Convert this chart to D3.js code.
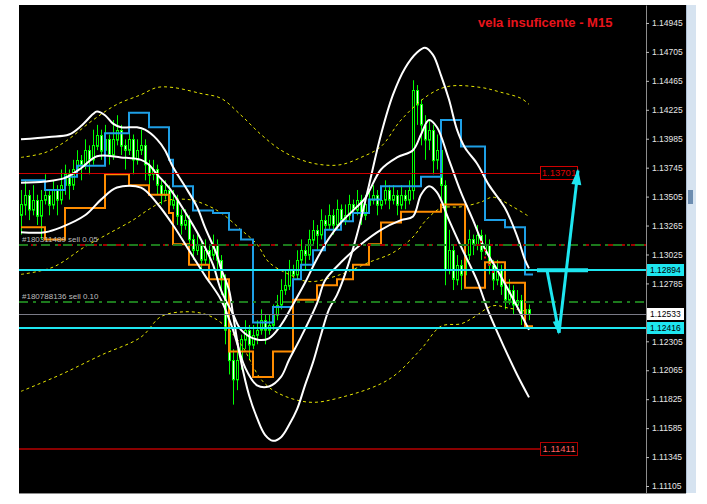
<!DOCTYPE html>
<html><head><meta charset="utf-8">
<script src="https://cdn.jsdelivr.net/npm/d3@7"></script>
<style>body{margin:0;background:#fff;}svg{display:block;}</style>
</head><body><svg id="c" width="707" height="504"></svg>
<script>
// ---------------- DATA ----------------
const barOpen = [1.1335,1.1344,1.1352,1.1340,1.1348,1.1335,1.1348,1.1352,1.1344,1.1356,
1.1348,1.1360,1.1369,1.1360,1.1373,1.1381,1.1377,1.1389,1.1381,1.1393,
1.1402,1.1389,1.1398,1.1385,1.1398,1.1406,1.1393,1.1389,1.1398,1.1381,
1.1389,1.1393,1.1377,1.1369,1.1373,1.1360,1.1352,1.1356,1.1344,1.1348,
1.1335,1.1327,1.1331,1.1315,1.1306,1.1311,1.1298,1.1306,1.1302,1.1311,
1.1298,1.1282,1.1240,1.1215,1.1199,1.1215,1.1232,1.1240,1.1228,1.1236,
1.1240,1.1248,1.1240,1.1244,1.1253,1.1261,1.1273,1.1277,1.1290,1.1286,
1.1298,1.1306,1.1302,1.1315,1.1323,1.1319,1.1331,1.1327,1.1335,1.1327,
1.1340,1.1331,1.1335,1.1344,1.1340,1.1348,1.1335,1.1344,1.1348,1.1352,
1.1344,1.1348,1.1356,1.1348,1.1352,1.1344,1.1352,1.1348,1.1356,1.1439,
1.1427,1.1410,1.1398,1.1406,1.1381,1.1389,1.1360,1.1290,1.1306,1.1282,
1.1294,1.1286,1.1302,1.1315,1.1311,1.1319,1.1306,1.1311,1.1294,1.1282,
1.1290,1.1277,1.1265,1.1273,1.1261,1.1265,1.1253,1.1257];
const barHigh = [1.1356,1.1364,1.1356,1.1360,1.1352,1.1356,1.1369,1.1356,1.1364,1.1360,
1.1373,1.1377,1.1373,1.1381,1.1389,1.1385,1.1398,1.1393,1.1406,1.1410,
1.1406,1.1410,1.1402,1.1414,1.1418,1.1410,1.1398,1.1406,1.1402,1.1398,
1.1406,1.1398,1.1381,1.1381,1.1377,1.1364,1.1364,1.1360,1.1356,1.1352,
1.1340,1.1340,1.1335,1.1319,1.1319,1.1315,1.1315,1.1311,1.1319,1.1315,
1.1302,1.1286,1.1248,1.1224,1.1224,1.1236,1.1248,1.1244,1.1244,1.1248,
1.1257,1.1253,1.1253,1.1261,1.1269,1.1282,1.1290,1.1298,1.1294,1.1306,
1.1315,1.1311,1.1323,1.1331,1.1327,1.1340,1.1335,1.1344,1.1340,1.1348,
1.1344,1.1344,1.1352,1.1348,1.1356,1.1352,1.1352,1.1356,1.1360,1.1356,
1.1356,1.1364,1.1360,1.1360,1.1356,1.1360,1.1356,1.1364,1.1447,1.1443,
1.1431,1.1418,1.1414,1.1410,1.1402,1.1393,1.1364,1.1323,1.1311,1.1302,
1.1298,1.1319,1.1323,1.1319,1.1327,1.1323,1.1319,1.1315,1.1298,1.1298,
1.1294,1.1282,1.1282,1.1277,1.1273,1.1269,1.1265,1.1261];
const barLow = [1.1319,1.1335,1.1331,1.1335,1.1327,1.1315,1.1344,1.1335,1.1340,1.1335,
1.1344,1.1352,1.1348,1.1356,1.1369,1.1364,1.1373,1.1369,1.1377,1.1389,
1.1381,1.1385,1.1377,1.1381,1.1393,1.1385,1.1373,1.1385,1.1369,1.1377,
1.1385,1.1364,1.1360,1.1364,1.1352,1.1344,1.1348,1.1340,1.1340,1.1327,
1.1319,1.1323,1.1306,1.1298,1.1302,1.1290,1.1294,1.1294,1.1298,1.1290,
1.1269,1.1228,1.1203,1.1178,1.1190,1.1207,1.1224,1.1215,1.1224,1.1228,
1.1236,1.1228,1.1236,1.1240,1.1248,1.1257,1.1269,1.1273,1.1273,1.1282,
1.1294,1.1290,1.1298,1.1311,1.1306,1.1315,1.1315,1.1323,1.1319,1.1323,
1.1323,1.1327,1.1331,1.1331,1.1335,1.1327,1.1331,1.1340,1.1344,1.1335,
1.1340,1.1344,1.1340,1.1344,1.1335,1.1340,1.1340,1.1344,1.1348,1.1410,
1.1393,1.1381,1.1389,1.1369,1.1373,1.1348,1.1277,1.1286,1.1273,1.1277,
1.1273,1.1282,1.1298,1.1302,1.1306,1.1298,1.1302,1.1286,1.1273,1.1277,
1.1269,1.1257,1.1261,1.1253,1.1257,1.1244,1.1248,1.1248];
const barClose = [1.1344,1.1352,1.1340,1.1348,1.1335,1.1348,1.1352,1.1344,1.1356,1.1348,
1.1360,1.1369,1.1360,1.1373,1.1381,1.1377,1.1389,1.1381,1.1393,1.1402,
1.1389,1.1398,1.1385,1.1398,1.1406,1.1393,1.1389,1.1398,1.1381,1.1389,
1.1393,1.1377,1.1369,1.1373,1.1360,1.1352,1.1356,1.1344,1.1348,1.1335,
1.1327,1.1331,1.1315,1.1306,1.1311,1.1298,1.1306,1.1302,1.1311,1.1298,
1.1282,1.1240,1.1215,1.1199,1.1215,1.1232,1.1240,1.1228,1.1236,1.1240,
1.1248,1.1240,1.1244,1.1253,1.1261,1.1273,1.1277,1.1290,1.1286,1.1298,
1.1306,1.1302,1.1315,1.1323,1.1319,1.1331,1.1327,1.1335,1.1327,1.1340,
1.1331,1.1335,1.1344,1.1340,1.1348,1.1335,1.1344,1.1348,1.1352,1.1344,
1.1348,1.1356,1.1348,1.1352,1.1344,1.1352,1.1348,1.1356,1.1439,1.1427,
1.1410,1.1398,1.1406,1.1381,1.1389,1.1360,1.1290,1.1306,1.1282,1.1294,
1.1286,1.1302,1.1315,1.1311,1.1319,1.1306,1.1311,1.1294,1.1282,1.1290,
1.1277,1.1265,1.1273,1.1261,1.1265,1.1253,1.1257,1.1253];

// indicator knots: [bar index, price]
const outerBand = [[0,1.1398],[7,1.1400],[12,1.1402],[15,1.1409],[18,1.1419],[19,1.1421],[21,1.1418],[23,1.1411],[25,1.1408],[29,1.1408],[31,1.1406],[34,1.1398],[36,1.1389],[38,1.1375],[41,1.1359],[44,1.1342],[46,1.1325],[49,1.1302],[50,1.1291],[52,1.1273],[53,1.1253],[54,1.1232],[55,1.1214],[57,1.1186],[59,1.1167],[61,1.1153],[63,1.1148],[65,1.1151],[67,1.1161],[69,1.1174],[71,1.1194],[73,1.1213],[75,1.1236],[77,1.1257],[79,1.1269],[81,1.1286],[84,1.1319],[87,1.1360],[90,1.1402],[93,1.1435],[96,1.1457],[99,1.1470],[101,1.1474],[103,1.1468],[105,1.1451],[107,1.1431],[109,1.1406],[111,1.1391],[114,1.1378],[117,1.1360],[121,1.1341],[124,1.1318],[126,1.1298],[127,1.1291]];
const innerUpper = [[0,1.1362],[6,1.1363],[11,1.1366],[15,1.1374],[19,1.1384],[25,1.1383],[30,1.1381],[32,1.1377],[34,1.1369],[37,1.1358],[41,1.1338],[45,1.1315],[48,1.1294],[50,1.1273],[53,1.1253],[55,1.1240],[59,1.1232],[62,1.1233],[65,1.1244],[68,1.1261],[71,1.1279],[74,1.1299],[77,1.1316],[80,1.1329],[83,1.1339],[86,1.1349],[90,1.1373],[94,1.1383],[98,1.1389],[100,1.1402],[102,1.1414],[104,1.1408],[107,1.1381],[110,1.1354],[113,1.1331],[116,1.1307],[119,1.1290],[122,1.1272],[125,1.1253],[127,1.1240]];
const innerLower = [[0,1.1321],[6,1.1321],[10,1.1325],[16,1.1335],[20,1.1348],[24,1.1358],[30,1.1358],[34,1.1345],[38,1.1327],[42,1.1306],[46,1.1285],[50,1.1265],[53,1.1240],[56,1.1209],[59,1.1194],[62,1.1193],[65,1.1201],[67,1.1215],[70,1.1234],[74,1.1262],[76,1.1281],[80,1.1296],[85,1.1311],[90,1.1323],[95,1.1331],[98,1.1334],[100,1.1352],[102,1.1359],[104,1.1354],[107,1.1331],[110,1.1309],[114,1.1281],[117,1.1254],[121,1.1224],[124,1.1203],[127,1.1184]];
const envUpper = [[0,1.1383],[6,1.1387],[11,1.1396],[18,1.1414],[24,1.1427],[30,1.1435],[34,1.1441],[38,1.1441],[45,1.1436],[50,1.1432],[55,1.1418],[60,1.1402],[65,1.1389],[70,1.1381],[75,1.1377],[80,1.1377],[85,1.1383],[90,1.1392],[95,1.1414],[102,1.1435],[107,1.1442],[115,1.1441],[120,1.1437],[125,1.1432],[127,1.1427]];
const envMiddle = [[0,1.1286],[8,1.1292],[16,1.1309],[22,1.1320],[28,1.1331],[32,1.1340],[36,1.1347],[42,1.1348],[46,1.1344],[50,1.1337],[55,1.1323],[59,1.1311],[62,1.1296],[67,1.1286],[72,1.1280],[80,1.1286],[87,1.1296],[93,1.1304],[98,1.1317],[101,1.1330],[105,1.1341],[110,1.1342],[115,1.1346],[118,1.1350],[123,1.1342],[127,1.1334]];
const envLower = [[0,1.1189],[10,1.1203],[20,1.1219],[30,1.1234],[35,1.1251],[41,1.1255],[46,1.1253],[50,1.1246],[55,1.1228],[60,1.1199],[64,1.1188],[72,1.1180],[80,1.1184],[92,1.1199],[100,1.1224],[105,1.1243],[110,1.1245],[113,1.1250],[118,1.1260],[122,1.1258],[127,1.1255]];
const channelHigh = [[0,1.1364],[6,1.1356],[11,1.1367],[14,1.1376],[21,1.1403],[27,1.1420],[32,1.1408],[37,1.1381],[38,1.1359],[43,1.1339],[48,1.1337],[52,1.1323],[55,1.1315],[58,1.1246],[63,1.1259],[68,1.1282],[70,1.1294],[73,1.1306],[76,1.1323],[80,1.1330],[83,1.1337],[87,1.1348],[90,1.1359],[100,1.1367],[105,1.1414],[110,1.1392],[116,1.1331],[121,1.1325],[126,1.1286],[128,1.1286]];
const channelLow = [[0,1.1325],[6,1.1315],[11,1.1341],[21,1.1369],[27,1.1360],[32,1.1352],[37,1.1337],[38,1.1311],[42,1.1294],[47,1.1282],[52,1.1222],[58,1.1201],[63,1.1222],[68,1.1265],[74,1.1277],[79,1.1282],[83,1.1294],[87,1.1311],[90,1.1329],[95,1.1338],[105,1.1344],[111,1.1275],[116,1.1296],[121,1.1279],[126,1.1243],[128,1.1243]];
const signalDots = [[115,1.1313],[116,1.1306],[116,1.1300],[117,1.1294],[118,1.1288]];

const tickValues = [1.14945,1.14705,1.14465,1.14225,1.13985,1.13745,1.13505,1.13265,1.13025,1.12785,1.12305,1.12065,1.11825,1.11585,1.11345,1.11105];
const cyanLevels = [1.12894, 1.12416];
const bidPrice = 1.12533;
const orderLevels = [1.13105, 1.12634];
const orderLabels = ["#180311489 sell 0.05", "#180788136 sell 0.10"];
const takeProfit = 1.13701;
const stopLevel = 1.11411;
const title = "vela insuficente - M15";
// drawn arrow object: [bar index, price]
const arrowBar = [[129,1.12894],[141.75,1.12894]];
const arrowDown = [[131.5,1.12894],[134.5,1.12376]];
const arrowUp = [[134.5,1.12376],[139.25,1.1372]];

// ---------------- CHART ----------------
const svg = d3.select("#c");
const L=19, R=646, T=5, B=493;
svg.append("rect").attr("width",707).attr("height",504).attr("fill","#fff");
svg.append("rect").attr("x",L).attr("y",T).attr("width",667).attr("height",B-T).attr("fill","#000");
// scrollbar strip
svg.append("rect").attr("x",686).attr("y",T).attr("width",10).attr("height",B-T).attr("fill","#d6e3f0");
svg.append("line").attr("x1",686.5).attr("x2",686.5).attr("y1",T).attr("y2",B).attr("stroke","#aebfd2");
svg.append("rect").attr("x",688).attr("y",190).attr("width",5).attr("height",14).attr("fill","#6d8db0");

const x = d3.scaleLinear().domain([0,127]).range([21,529]);
const y = d3.scaleLinear().domain([1.11047,1.15094]).range([B,T]);

svg.append("clipPath").attr("id","clip").append("rect").attr("x",L).attr("y",T).attr("width",R-L).attr("height",B-T);
const plot = svg.append("g").attr("clip-path","url(#clip)");

// candles
const bars = barOpen.map((o,i)=>({i,o,h:barHigh[i],l:barLow[i],c:barClose[i]}));
const cg = plot.append("g");
cg.selectAll("line.w").data(bars).join("line")
  .attr("x1",d=>Math.round(x(d.i))+0.5).attr("x2",d=>Math.round(x(d.i))+0.5)
  .attr("y1",d=>y(d.h)).attr("y2",d=>y(d.l)).attr("stroke","#00ff00").attr("stroke-width",1);
cg.selectAll("rect.b").data(bars).join("rect")
  .attr("x",d=>Math.round(x(d.i))-0.5).attr("width",2)
  .attr("y",d=>Math.round(y(Math.max(d.o,d.c)))+0.5)
  .attr("height",d=>Math.max(1,Math.abs(y(d.o)-y(d.c))))
  .attr("fill",d=>d.c>=d.o?"#000":"#e8ffe8").attr("stroke","#00ff00").attr("stroke-width",1);

const curve = d3.line().x(d=>x(d[0])).y(d=>y(d[1])).curve(d3.curveCatmullRom.alpha(0.5));
const step = d3.line().x(d=>x(d[0])).y(d=>y(d[1])).curve(d3.curveStepAfter);

[envUpper,envMiddle,envLower].forEach(s=>plot.append("path").attr("d",curve(s))
  .attr("fill","none").attr("stroke","#e6e600").attr("stroke-width",1).attr("stroke-dasharray","3,3"));
plot.append("path").attr("d",step(channelHigh)).attr("fill","none").attr("stroke","#1e9fe6").attr("stroke-width",2);
plot.append("path").attr("d",step(channelLow)).attr("fill","none").attr("stroke","#ff8c00").attr("stroke-width",2);
[outerBand,innerUpper,innerLower].forEach(s=>plot.append("path").attr("d",curve(s))
  .attr("fill","none").attr("stroke","#ffffff").attr("stroke-width",2));
plot.selectAll("rect.sig").data(signalDots).join("rect")
  .attr("x",d=>x(d[0])-1).attr("y",d=>y(d[1])-1).attr("width",2).attr("height",2).attr("fill","#e00000");

// horizontal objects
const hline=(p,col,w,dash,x2)=>plot.append("line").attr("x1",L).attr("x2",x2||R)
  .attr("y1",Math.round(y(p))+(w%2?0.5:0)).attr("y2",Math.round(y(p))+(w%2?0.5:0))
  .attr("stroke",col).attr("stroke-width",w).attr("stroke-dasharray",dash||null);
hline(takeProfit,"#d00000",1,null,540);
hline(stopLevel,"#8a0000",2,null,540);
hline(orderLevels[0],"#a00000",2,"6,6");
orderLevels.forEach(p=>hline(p,"#1d7a1d",2,"9,5,3,5"));
hline(bidPrice,"#7a7a86",1);
cyanLevels.forEach(p=>hline(p,"#1ee6f0",2));

orderLabels.forEach((t,k)=>plot.append("text").attr("x",22).attr("y",y(orderLevels[k])-3)
  .attr("font-family","Liberation Sans, Arial, sans-serif").attr("font-size",8)
  .attr("fill","#bdbdbd").text(t));

// signal label boxes
[[takeProfit,"#d00000","#e00000"],[stopLevel,"#b00000","#ff6060"]].forEach(([p,bc,tc])=>{
  const yy=Math.round(y(p));
  plot.append("rect").attr("x",540.5).attr("y",yy-6.5).attr("width",37).attr("height",13)
    .attr("fill","#000").attr("stroke",bc).attr("stroke-width",1);
  plot.append("text").attr("x",559).attr("y",yy).attr("dy","0.35em").attr("text-anchor","middle")
    .attr("font-family","Liberation Sans, Arial, sans-serif").attr("font-size",9.5).attr("fill",tc)
    .text(d3.format(".5f")(p));
});

// arrow object
const pl = d3.line().x(d=>x(d[0])).y(d=>y(d[1]));
plot.append("path").attr("d",pl(arrowBar)).attr("stroke","#1ee6f0").attr("stroke-width",4).attr("fill","none");
plot.append("path").attr("d",pl(arrowDown)).attr("stroke","#1ee6f0").attr("stroke-width",3).attr("fill","none");
plot.append("path").attr("d",pl(arrowUp)).attr("stroke","#1ee6f0").attr("stroke-width",3).attr("fill","none");
{
  const p0=[x(arrowUp[0][0]),y(arrowUp[0][1])], p1=[x(arrowUp[1][0]),y(arrowUp[1][1])];
  const a=Math.atan2(p1[1]-p0[1],p1[0]-p0[0]), len=14, wd=5;
  const bx=p1[0]-len*Math.cos(a), by=p1[1]-len*Math.sin(a);
  const nx=-Math.sin(a)*wd, ny=Math.cos(a)*wd;
  plot.append("path").attr("d",`M${p1[0]},${p1[1]-2}L${bx+nx},${by+ny}L${bx-nx},${by-ny}Z`).attr("fill","#1ee6f0");
  const q0=[x(arrowDown[0][0]),y(arrowDown[0][1])], q1=[x(arrowDown[1][0]),y(arrowDown[1][1])];
  const b=Math.atan2(q1[1]-q0[1],q1[0]-q0[0]);
  const cx=q1[0]-12*Math.cos(b), cy=q1[1]-12*Math.sin(b);
  const mx=-Math.sin(b)*4, my=Math.cos(b)*4;
  plot.append("path").attr("d",`M${q1[0]},${q1[1]+2}L${cx+mx},${cy+my}L${cx-mx},${cy-my}Z`).attr("fill","#1ee6f0");
}

// title
svg.append("text").attr("x",478).attr("y",27).attr("font-family","Liberation Sans, Arial, sans-serif")
  .attr("font-weight","bold").attr("font-size",13).attr("fill","#e8141c").text(title);

// price axis
const ax = svg.append("g").attr("transform",`translate(${R},0)`)
  .call(d3.axisRight(y).tickValues(tickValues).tickFormat(d3.format(".5f")).tickSize(3).tickPadding(3).tickSizeOuter(0));
ax.select(".domain").attr("stroke","#8c8c8c");
ax.selectAll(".tick line").attr("stroke","#bdbdbd");
ax.selectAll(".tick text").attr("fill","#e6e6e6").attr("font-family","Liberation Sans, Arial, sans-serif").attr("font-size",8.5);
svg.append("line").attr("x1",L).attr("x2",686).attr("y1",B+0.5).attr("y2",B+0.5).attr("stroke","#8c8c8c");

// price boxes on axis
[[cyanLevels[0],"#1ee6f0"],[bidPrice,"#ffffff"],[cyanLevels[1],"#1ee6f0"]].forEach(([p,col])=>{
  const yy=Math.round(y(p));
  svg.append("rect").attr("x",647).attr("y",yy-6).attr("width",37).attr("height",12).attr("fill",col);
  svg.append("text").attr("x",650).attr("y",yy).attr("dy","0.35em").attr("fill","#000")
    .attr("font-family","Liberation Sans, Arial, sans-serif").attr("font-size",8.5).text(d3.format(".5f")(p));
});
</script></body></html>
